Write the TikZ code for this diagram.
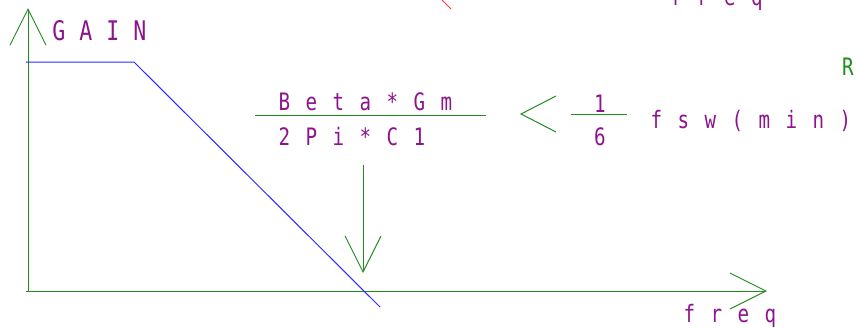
\documentclass[tikz,border=0pt]{standalone}
\usepackage{fontspec}
\usetikzlibrary{arrows.meta}
\newfontfamily\cadfont[FakeStretch=0.8]{DejaVu Sans Mono}
\definecolor{axisgreen}{RGB}{30,140,30}
\definecolor{txtpurple}{RGB}{140,20,140}
\definecolor{curveblue}{RGB}{40,40,255}
\definecolor{markred}{RGB}{255,60,60}
\makeatletter
\newcommand\pitched[1]{\@tfor\ch:=#1\do{\makebox[27pt][c]{\ch}}}
\makeatother
\tikzset{
  ax/.style={draw=axisgreen, line width=1pt},
  barb/.style={-{Straight Barb[length=36pt,width=36pt,line width=1pt]}},
  lbl/.style={anchor=base west, inner sep=0pt, outer sep=0pt, text=txtpurple, font=\cadfont\fontsize{24}{24}\selectfont},
  biglbl/.style={lbl, font=\cadfont\fontsize{27}{27}\selectfont},
}
\begin{document}
\begin{tikzpicture}[x=1pt,y=-1pt]
\useasboundingbox (0,0) rectangle (857,327);
% axes
\coordinate (O) at (28,291);
\coordinate (ytop) at (28,8);
\coordinate (xstart) at (26,291);
\coordinate (xend) at (767,291);
\draw[ax, barb] (O) -- (ytop);
\draw[ax, barb] (xstart) -- (xend);
% gain curve
\coordinate (c0) at (26,62);
\coordinate (c1) at (134,62);
\coordinate (c2) at (380,307);
\draw[curveblue, line width=1pt] (c0) -- (c1) -- (c2);
% labels
\node[biglbl] (gain) at (45.5,40) {\pitched{GAIN}};
\node[lbl] (num) at (271,110) {\pitched{Beta*Gm}};
\node[lbl] (den) at (271,145) {\pitched{2Pi*C1}};
\coordinate (f1a) at (255,115);
\coordinate (f1b) at (486,115);
\draw[ax] (f1a) -- (f1b);
% less than sign
\coordinate (lt1) at (556,96);
\coordinate (lt2) at (521,114);
\coordinate (lt3) at (556,132);
\draw[ax] (lt1) -- (lt2) -- (lt3);
% 1/6
\node[lbl, anchor=base] (one) at (600,112) {\pitched{1}};
\node[lbl, anchor=base] (six) at (600,145) {\pitched{6}};
\coordinate (f2a) at (571,114);
\coordinate (f2b) at (627,114);
\draw[ax] (f2a) -- (f2b);
\node[lbl] (fsw) at (643,128) {\pitched{fsw(min)}};
% down arrow
\coordinate (da) at (363,165);
\coordinate (db) at (363,273);
\draw[ax, barb] (da) -- (db);
% axis label
\node[lbl] (freq) at (676,322) {\pitched{freq}};
% partial items at the edges
\node[lbl] (freqtop) at (662.5,5) {\pitched{freq}};
\node[lbl, text=axisgreen] (R) at (834.5,75) {\pitched{R}};
\coordinate (r1) at (442,0);
\coordinate (r2) at (451,9);
\draw[markred, line width=1pt] (r1) -- (r2);
\end{tikzpicture}
\end{document}
